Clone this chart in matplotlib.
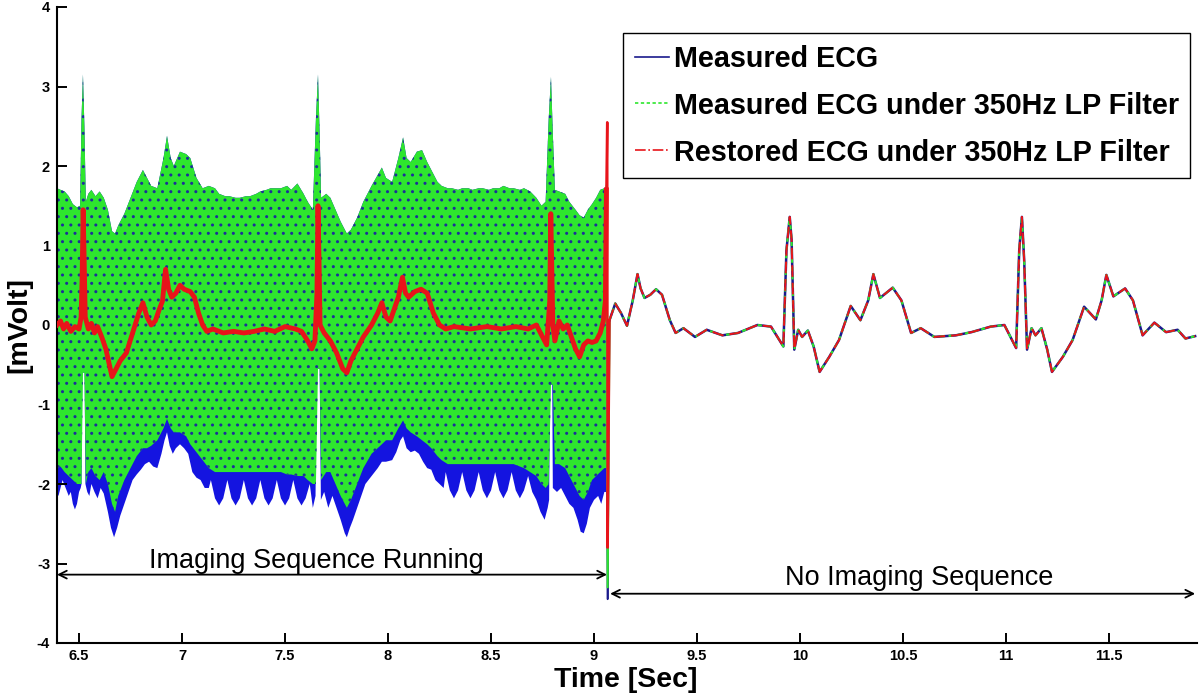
import matplotlib
matplotlib.use("Agg")
import matplotlib.pyplot as plt
from matplotlib.lines import Line2D
import numpy as np

plt.rcParams['font.family'] = ['Liberation Sans', 'DejaVu Sans']
plt.rcParams['hatch.linewidth'] = 1.0

# ---------------- data ----------------
# Imaging-sequence segment: envelope of the LP-filtered measured ECG (dense oscillation)
noise_t = [6.393, 6.41, 6.43, 6.45, 6.47, 6.49, 6.505, 6.512, 6.519, 6.526, 6.533, 6.545, 6.56, 6.58,
           6.60, 6.62, 6.64, 6.66, 6.675, 6.69, 6.72, 6.75, 6.78, 6.81, 6.83, 6.85, 6.88, 6.91, 6.927,
           6.945, 6.96, 6.99, 7.02, 7.04, 7.07, 7.10, 7.13, 7.16, 7.18, 7.21, 7.23, 7.26, 7.28, 7.31,
           7.33, 7.36, 7.38, 7.41, 7.43, 7.46, 7.48, 7.51, 7.53, 7.56, 7.59, 7.61, 7.635, 7.65, 7.66,
           7.668, 7.675, 7.70, 7.72, 7.745, 7.77, 7.80, 7.82, 7.85, 7.88, 7.92, 7.97, 7.99, 8.02, 8.05,
           8.073, 8.09, 8.11, 8.14, 8.165, 8.19, 8.21, 8.24, 8.26, 8.29, 8.31, 8.34, 8.36, 8.39, 8.41,
           8.44, 8.46, 8.49, 8.51, 8.54, 8.56, 8.59, 8.61, 8.64, 8.66, 8.69, 8.72, 8.745, 8.765, 8.78,
           8.791, 8.80, 8.81, 8.83, 8.86, 8.88, 8.91, 8.93, 8.95, 8.97, 8.99, 9.01, 9.03, 9.05, 9.062]
lp_upper = [1.72, 1.70, 1.68, 1.62, 1.52, 1.48, 1.50, 2.60, 3.15, 2.50, 1.55, 1.65, 1.70, 1.62,
            1.68, 1.60, 1.45, 1.18, 1.15, 1.25, 1.40, 1.60, 1.80, 1.95, 1.85, 1.75, 1.72, 2.10, 2.38,
            2.10, 2.00, 2.18, 2.15, 2.10, 1.85, 1.72, 1.75, 1.72, 1.65, 1.62, 1.62, 1.60, 1.60, 1.62,
            1.62, 1.65, 1.68, 1.70, 1.72, 1.72, 1.72, 1.75, 1.70, 1.78, 1.65, 1.55, 1.45, 2.60, 3.15,
            2.40, 1.60, 1.65, 1.60, 1.45, 1.30, 1.15, 1.20, 1.35, 1.55, 1.75, 1.98, 1.85, 1.80, 2.10,
            2.36, 2.10, 2.05, 2.18, 2.20, 2.05, 1.95, 1.80, 1.75, 1.72, 1.72, 1.70, 1.72, 1.72, 1.70,
            1.72, 1.72, 1.70, 1.72, 1.72, 1.75, 1.72, 1.72, 1.70, 1.72, 1.68, 1.60, 1.50, 1.55, 2.60,
            3.12, 2.40, 1.70, 1.68, 1.65, 1.55, 1.45, 1.38, 1.35, 1.45, 1.52, 1.60, 1.70, 1.72, 1.75]
lp_lower = [-1.80, -1.78, -1.85, -1.90, -1.95, -2.00, -2.00, -2.00, -0.60, -0.60, -2.00, -1.85, -1.80, -1.90,
            -1.95, -1.85, -2.00, -2.25, -2.35, -2.15, -1.95, -1.80, -1.65, -1.55, -1.55, -1.52, -1.45, -1.30, -1.18,
            -1.30, -1.35, -1.35, -1.40, -1.50, -1.60, -1.70, -1.80, -1.85, -1.85, -1.85, -1.85, -1.85, -1.85, -1.85,
            -1.85, -1.85, -1.85, -1.85, -1.85, -1.85, -1.85, -1.88, -1.88, -1.90, -1.90, -1.95, -2.00, -2.00, -0.55,
            -0.55, -1.95, -1.85, -1.85, -2.00, -2.15, -2.30, -2.20, -2.00, -1.80, -1.62, -1.50, -1.45, -1.45, -1.30,
            -1.20, -1.30, -1.35, -1.40, -1.45, -1.50, -1.55, -1.65, -1.70, -1.75, -1.75, -1.75, -1.75, -1.75, -1.75,
            -1.75, -1.75, -1.75, -1.75, -1.75, -1.75, -1.75, -1.75, -1.78, -1.80, -1.85, -1.90, -2.00, -2.05, -2.00,
            -0.75, -0.75, -1.75, -1.75, -1.80, -1.90, -2.05, -2.15, -2.20, -2.10, -1.95, -1.90, -1.85, -1.80, -1.80]

# Lower envelope of the raw measured ECG (blue, shows below the green)
meas_t = [6.393, 6.40, 6.41, 6.42, 6.435, 6.45, 6.46, 6.47, 6.48, 6.49, 6.50, 6.508, 6.512, 6.516, 6.527,
          6.531, 6.54, 6.55, 6.56, 6.575, 6.59, 6.605, 6.62, 6.64, 6.655, 6.67, 6.685, 6.70, 6.72, 6.74,
          6.76, 6.78, 6.80, 6.82, 6.84, 6.86, 6.88, 6.90, 6.915, 6.927, 6.94, 6.955, 6.97, 6.99, 7.01,
          7.03, 7.05, 7.07, 7.09, 7.11, 7.13,
          7.14, 7.16, 7.18, 7.20, 7.22, 7.24, 7.26, 7.28, 7.30, 7.32, 7.34, 7.36, 7.38, 7.40, 7.42, 7.44,
          7.46, 7.48, 7.50, 7.52, 7.54, 7.56, 7.58, 7.60, 7.62, 7.635, 7.648, 7.654, 7.668, 7.674,
          7.69, 7.71, 7.73, 7.75, 7.77, 7.79, 7.80, 7.815, 7.83, 7.85, 7.87, 7.89, 7.92, 7.95, 7.97,
          7.99, 8.02, 8.04, 8.06, 8.073, 8.09, 8.11, 8.13, 8.15, 8.17, 8.19, 8.21, 8.23, 8.25, 8.27,
          8.28, 8.30, 8.32, 8.34, 8.36, 8.38, 8.40, 8.42, 8.44, 8.46, 8.48, 8.50, 8.52, 8.54, 8.56, 8.58,
          8.60, 8.62, 8.64, 8.66, 8.68, 8.70, 8.72, 8.74, 8.76, 8.775, 8.782, 8.786, 8.797, 8.80,
          8.82, 8.84, 8.86, 8.88, 8.90, 8.92, 8.935, 8.95, 8.965, 8.98, 9.00, 9.02, 9.035, 9.05, 9.062]
meas_lower = [-2.12, -2.15, -2.05, -1.95, -2.05, -2.15, -2.10, -2.25, -2.32, -2.25, -2.10, -2.05, -2.00, -0.60, -0.60,
              -2.00, -2.10, -2.15, -2.00, -2.10, -2.18, -2.05, -2.12, -2.35, -2.55, -2.67, -2.55, -2.40, -2.25, -2.10,
              -1.95, -1.88, -1.82, -1.75, -1.72, -1.78, -1.80, -1.62, -1.45, -1.35, -1.52, -1.62, -1.55, -1.50, -1.55,
              -1.62, -1.85, -1.92, -1.95, -2.05, -2.05,
              -1.95, -2.18, -2.27, -2.18, -1.95, -2.18, -2.27, -2.18, -1.95, -2.18, -2.27, -2.18, -1.95, -2.18, -2.27, -2.18,
              -1.95, -2.18, -2.27, -2.18, -1.95, -2.18, -2.27, -2.18, -2.00, -2.30, -2.15, -0.55, -0.55, -2.20,
              -2.10, -2.30, -2.15, -2.30, -2.45, -2.62, -2.67, -2.55, -2.45, -2.30, -2.15, -2.00, -1.90, -1.80, -1.72,
              -1.72, -1.70, -1.60, -1.45, -1.40, -1.55, -1.60, -1.58, -1.62, -1.72, -1.80, -1.82, -1.95, -2.00, -2.05,
              -1.85, -2.08, -2.18, -2.08, -1.85, -2.08, -2.18, -2.08, -1.85, -2.08, -2.18, -2.08, -1.85, -2.08, -2.18, -2.08,
              -1.85, -2.08, -2.18, -2.08, -1.90, -2.10, -2.20, -2.35, -2.45, -2.30, -2.20, -0.75, -0.75, -2.05,
              -2.10, -2.05, -2.15, -2.25, -2.30, -2.45, -2.60, -2.62, -2.50, -2.30, -2.20, -2.15, -2.25, -2.10, -2.10]

# Restored ECG during imaging sequence
rest_noise_t = [6.393, 6.41, 6.425, 6.44, 6.46, 6.48, 6.50, 6.51, 6.515, 6.52, 6.525, 6.53, 6.545, 6.56,
                6.575, 6.59, 6.61, 6.63, 6.66, 6.68, 6.70, 6.73, 6.76, 6.79, 6.81, 6.83, 6.85, 6.87, 6.89,
                6.905, 6.92, 6.935, 6.95, 6.97, 6.99, 7.01, 7.04, 7.06, 7.08, 7.10, 7.12, 7.15, 7.20, 7.25,
                7.30, 7.35, 7.40, 7.45, 7.50, 7.55, 7.58, 7.61, 7.63, 7.645, 7.655, 7.66, 7.665, 7.67, 7.69,
                7.72, 7.75, 7.78, 7.80, 7.82, 7.85, 7.88, 7.92, 7.95, 7.97, 7.99, 8.01, 8.03, 8.05, 8.07,
                8.085, 8.10, 8.13, 8.16, 8.19, 8.22, 8.25, 8.28, 8.32, 8.40, 8.48, 8.55, 8.62, 8.68, 8.72,
                8.75, 8.77, 8.785, 8.79, 8.795, 8.80, 8.81, 8.83, 8.85, 8.87, 8.89, 8.91, 8.93, 8.95, 8.97,
                8.99, 9.01, 9.03, 9.045, 9.055, 9.06]
rest_noise_v = [0.00, 0.05, -0.05, 0.02, -0.08, -0.02, -0.05, 0.10, 0.60, 1.45, 0.80, 0.10, -0.05, 0.02,
                -0.10, -0.02, -0.15, -0.30, -0.65, -0.55, -0.45, -0.35, -0.10, 0.15, 0.28, 0.10, 0.00, 0.05, 0.20,
                0.30, 0.70, 0.45, 0.35, 0.40, 0.50, 0.45, 0.42, 0.35, 0.15, 0.00, -0.08, -0.05, -0.10, -0.08,
                -0.10, -0.08, -0.05, -0.08, -0.02, -0.05, -0.08, -0.20, -0.30, -0.20, 0.40, 1.50, 0.80, 0.00, -0.10,
                -0.20, -0.35, -0.55, -0.60, -0.45, -0.30, -0.15, 0.00, 0.15, 0.28, 0.10, 0.05, 0.20, 0.35, 0.60,
                0.40, 0.35, 0.42, 0.45, 0.40, 0.15, 0.00, -0.05, -0.02, -0.05, -0.02, -0.05, -0.02, -0.05, 0.00,
                -0.15, -0.25, 0.30, 1.40, 0.70, 0.00, -0.20, 0.05, -0.05, 0.00, -0.15, -0.30, -0.40, -0.25, -0.20,
                -0.22, -0.20, -0.10, 0.05, 0.30, 1.70]

# Step at the end of the imaging sequence
edge_t = [9.062, 9.066, 9.075]
meas_edge_v = [-2.10, -3.45, 0.06]
lp_edge_v = [1.75, -3.30, 0.06]
rest_edge_t = [9.06, 9.064, 9.066, 9.075]
rest_edge_v = [1.70, 2.55, -2.80, 0.06]

# Clean ECG after the imaging sequence (all three signals coincide)
clean_t = [9.075, 9.103, 9.131, 9.16, 9.188, 9.211, 9.226, 9.245, 9.273, 9.301, 9.33, 9.368, 9.396,
           9.434, 9.49, 9.547, 9.623, 9.699, 9.793, 9.859, 9.919, 9.934, 9.95, 9.959, 9.972, 9.991, 10.01,
           10.038, 10.066, 10.095, 10.142, 10.189, 10.246, 10.293, 10.331, 10.356, 10.388, 10.45, 10.492,
           10.539, 10.586, 10.652, 10.756, 10.832, 10.926, 10.992, 11.049, 11.064, 11.077, 11.088, 11.102,
           11.124, 11.143, 11.172, 11.2, 11.223, 11.276, 11.323, 11.379, 11.436, 11.464, 11.487, 11.521,
           11.578, 11.616, 11.663, 11.72, 11.777, 11.833, 11.871, 11.918]
clean_v = [0.06, 0.27, 0.15, -0.01, 0.31, 0.64, 0.46, 0.34, 0.38, 0.45, 0.38, 0.06, -0.10,
           -0.04, -0.15, -0.06, -0.13, -0.10, 0.00, -0.02, -0.27, 0.94, 1.36, 1.07, -0.31, -0.06, -0.15,
           -0.07, -0.27, -0.59, -0.40, -0.19, 0.24, 0.06, 0.31, 0.64, 0.34, 0.47, 0.31,
           -0.10, -0.04, -0.15, -0.13, -0.09, -0.02, 0.00, -0.29, 0.94, 1.36, 0.82, -0.31,
           -0.04, -0.13, -0.04, -0.31, -0.59, -0.40, -0.19, 0.23, 0.07, 0.31, 0.63, 0.36,
           0.46, 0.31, -0.13, 0.03, -0.09, -0.06, -0.17, -0.14]

xticks = [6.5, 7, 7.5, 8, 8.5, 9, 9.5, 10, 10.5, 11, 11.5]
xtick_labels = ['6.5', '7', '7.5', '8', '8.5', '9', '9.5', '10', '10.5', '11', '11.5']
yticks = [-4, -3, -2, -1, 0, 1, 2, 3, 4]
legend_labels = ['Measured ECG', 'Measured ECG under 350Hz LP Filter', 'Restored ECG under 350Hz LP Filter']

# ---------------- colours ----------------
C_BLUE_FILL = '#1414e0'
C_BLUE_LINE = '#1a1a8c'
C_GREEN = '#2ee62e'
C_RED = '#e8141a'

fig = plt.figure(figsize=(12, 6.95), dpi=100)
ax = fig.add_axes([57 / 1200, 52 / 695, 1140 / 1200, 636 / 695])

# Measured ECG (blue): from its lower envelope up to the top of the oscillation
poly_x = list(noise_t) + list(meas_t[::-1])
poly_y = list(lp_upper) + list(meas_lower[::-1])
ax.fill(poly_x, poly_y, color=C_BLUE_FILL, lw=0, zorder=1)
# Measured ECG under LP filter (green, dashed over blue)
ax.fill_between(noise_t, lp_lower, lp_upper, facecolor=C_GREEN, edgecolor='#1c2f9a',
                hatch='..', lw=0, zorder=2)
ax.plot(edge_t, meas_edge_v, color=C_BLUE_LINE, lw=1.2, zorder=2)
ax.plot(edge_t, lp_edge_v, color=C_GREEN, lw=1.5, zorder=3)

# Clean part
ax.plot(clean_t, clean_v, color=C_BLUE_LINE, lw=1.8, zorder=3)
ax.plot(clean_t, clean_v, color=C_GREEN, lw=1.5, ls=(0, (2, 2)), zorder=4)
ax.plot(clean_t, clean_v, color=C_RED, lw=1.4, ls=(0, (6, 3)), zorder=5)

# Restored ECG during imaging
ax.plot(rest_noise_t, rest_noise_v, color=C_RED, lw=3.5, zorder=6, solid_joinstyle='round')
ax.plot(rest_edge_t, rest_edge_v, color=C_RED, lw=1.8, zorder=6)

# ---------------- axes styling ----------------
ax.set_xlim(6.393, 11.927)
ax.set_ylim(-4, 4)
ax.set_xticks(xticks)
ax.set_xticklabels(xtick_labels)
ax.set_yticks(yticks)
ax.set_yticklabels([str(v) for v in yticks])
for s in ['top', 'right']:
    ax.spines[s].set_visible(False)
for s in ['left', 'bottom']:
    ax.spines[s].set_linewidth(1.5)
    ax.spines[s].set_color('black')
ax.tick_params(axis='both', direction='in', length=7.5, width=1.4, labelsize=10.5)
ax.tick_params(axis='x', pad=4)
ax.tick_params(axis='y', pad=5)
for lab in ax.get_xticklabels() + ax.get_yticklabels():
    lab.set_fontweight('bold')

ax.set_xlabel('Time [Sec]', fontsize=20.5, fontweight='bold')
ax.xaxis.set_label_coords(0.499, -0.037)
ax.set_ylabel('[mVolt]', fontsize=20.5, fontweight='bold')
ax.yaxis.set_label_coords(-0.022, 0.5)

# Annotations
ax.annotate('', xy=(6.393, -3.14), xytext=(9.063, -3.14),
            arrowprops=dict(arrowstyle='<->', color='black', lw=1.3, shrinkA=0, shrinkB=0,
                            mutation_scale=14))
ax.text(7.65, -2.97, 'Imaging Sequence Running', fontsize=19.5, ha='center', va='center')
ax.annotate('', xy=(9.078, -3.38), xytext=(11.918, -3.38),
            arrowprops=dict(arrowstyle='<->', color='black', lw=1.3, shrinkA=0, shrinkB=0,
                            mutation_scale=14))
ax.text(10.58, -3.18, 'No Imaging Sequence', fontsize=19.5, ha='center', va='center')

# Legend
handles = [Line2D([], [], color=C_BLUE_LINE, lw=1.2),
           Line2D([], [], color=C_GREEN, lw=1.2, ls=(0, (2, 1.5))),
           Line2D([], [], color=C_RED, lw=1.2, ls='-.')]
leg = ax.legend(handles, legend_labels, loc='upper right', bbox_to_anchor=(0.994, 0.959),
                borderaxespad=0, fancybox=False, framealpha=1, edgecolor='black',
                prop=dict(family='Liberation Sans', weight='bold', size=20.7),
                handlelength=1.2, handletextpad=0.15, borderpad=0.4, labelspacing=0.66)
leg.get_frame().set_linewidth(1.0)
leg.set_zorder(10)

fig.savefig('out.png', dpi=100)
